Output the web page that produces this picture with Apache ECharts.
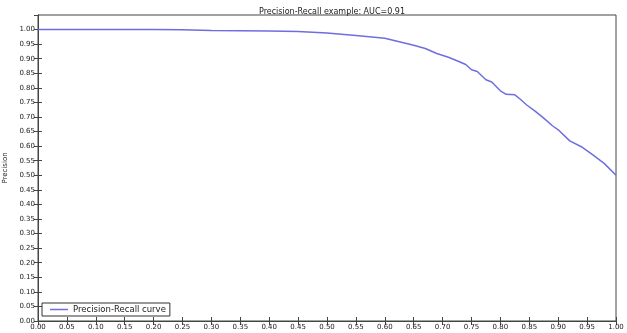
<!DOCTYPE html>
<html>
<head>
<meta charset="utf-8">
<script src="https://cdn.jsdelivr.net/npm/echarts@6/dist/echarts.min.js"></script>
<style>html,body{margin:0;padding:0;background:#fff;}#c{width:627px;height:333px;}</style>
</head>
<body>
<div id="c"></div>
<script>
var recall = [0, 0.05, 0.1, 0.15, 0.2, 0.25, 0.3, 0.35, 0.4, 0.45, 0.5, 0.55, 0.6, 0.625, 0.65, 0.67, 0.69, 0.71, 0.725, 0.74, 0.75, 0.76, 0.775, 0.785, 0.8, 0.81, 0.825, 0.835, 0.845, 0.86, 0.875, 0.89, 0.9, 0.92, 0.94, 0.96, 0.98, 1.0];
var precision = [1.0, 1.0, 1.0, 1.0, 1.0, 0.999, 0.997, 0.996, 0.995, 0.993, 0.988, 0.98, 0.97, 0.958, 0.946, 0.935, 0.918, 0.905, 0.893, 0.88, 0.862, 0.856, 0.828, 0.82, 0.79, 0.778, 0.776, 0.76, 0.742, 0.72, 0.696, 0.67, 0.656, 0.618, 0.598, 0.57, 0.54, 0.50];
var titleText = 'Precision-Recall example: AUC=0.91';
var seriesName = 'Precision-Recall curve';

var chart = echarts.init(document.getElementById('c'), null, {renderer: 'canvas'});
var font = 'DejaVu Sans';
var lineColor = '#6e6ee0';
var data = recall.map(function (r, i) { return [r, precision[i]]; });
var axisLineStyle = {color: '#444', width: 1};
var tickStyle = {show: true, inside: true, length: 4, lineStyle: {color: '#444'}};
var labelStyle = {fontFamily: font, fontSize: 7, color: '#222', formatter: function (v) { return v.toFixed(2); }};

chart.setOption({
  animation: false,
  backgroundColor: '#fff',
  title: {
    text: titleText, left: 327, top: 3, textAlign: 'center',
    textStyle: {fontFamily: font, fontSize: 8, fontWeight: 'normal', color: '#222'}
  },
  grid: {left: 38, right: 11, top: 15, bottom: 12, show: true, borderColor: '#444', borderWidth: 1,
         containLabel: false, outerBoundsMode: 'none'},
  legend: {
    left: 42, top: 303, orient: 'horizontal',
    itemWidth: 18, itemHeight: 1.5, itemGap: 4,
    padding: [2, 4, 2, 8],
    borderColor: '#333', borderWidth: 1, borderRadius: 0,
    backgroundColor: '#fff',
    textStyle: {fontFamily: font, fontSize: 8.5, color: '#222'},
    data: [{name: seriesName, icon: 'rect', itemStyle: {color: lineColor}}]
  },
  xAxis: [{
    type: 'value', min: 0, max: 1, interval: 0.05, position: 'bottom',
    axisLine: {show: true, lineStyle: axisLineStyle},
    axisTick: tickStyle, splitLine: {show: false},
    axisLabel: Object.assign({margin: 3}, labelStyle)
  }, {
    type: 'value', min: 0, max: 1, interval: 0.05, position: 'top',
    axisLine: {show: true, lineStyle: axisLineStyle},
    axisTick: tickStyle, splitLine: {show: false}, axisLabel: {show: false}
  }],
  yAxis: [{
    type: 'value', min: 0, max: 1.05, interval: 0.05, position: 'left',
    name: 'Precision', nameLocation: 'middle', nameGap: 24, nameRotate: 90,
    nameTextStyle: {fontFamily: font, fontSize: 7, color: '#222'},
    axisLine: {show: true, lineStyle: axisLineStyle},
    axisTick: tickStyle, splitLine: {show: false},
    axisLabel: Object.assign({margin: 3, showMaxLabel: false}, labelStyle)
  }, {
    type: 'value', min: 0, max: 1.05, interval: 0.05, position: 'right',
    axisLine: {show: true, lineStyle: axisLineStyle},
    axisTick: tickStyle, splitLine: {show: false}, axisLabel: {show: false}
  }],
  series: [{
    name: seriesName, type: 'line', data: data, xAxisIndex: 0, yAxisIndex: 0,
    showSymbol: false, smooth: false,
    lineStyle: {color: lineColor, width: 1.5},
    itemStyle: {color: lineColor}
  }]
});
</script>
</body>
</html>
